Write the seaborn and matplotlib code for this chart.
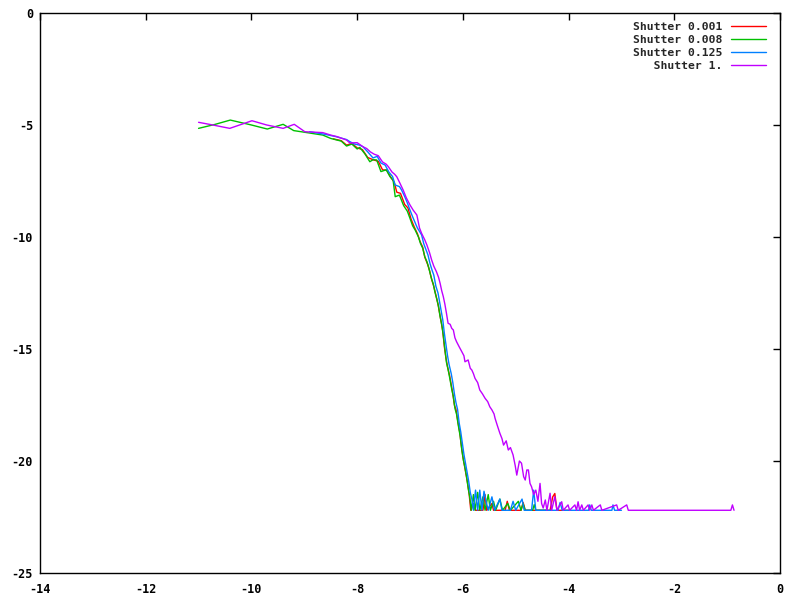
import matplotlib
matplotlib.use("Agg")
import matplotlib.pyplot as plt
import seaborn as sns
import pandas as pd

# ---- data ----
labels = ["Shutter 0.001", "Shutter 0.008", "Shutter 0.125", "Shutter 1."]
colors = ["#ff0000", "#00c000", "#0080ff", "#c000ff"]

red_x = [-8.45, -8.3, -8.2, -8.1, -8.0, -7.9, -7.8, -7.7, -7.6, -7.52, -7.44, -7.36, -7.3, -7.25,
         -7.18, -7.1, -7.04, -6.98, -6.92, -6.86, -6.81, -6.76, -6.72, -6.67, -6.63, -6.59, -6.55,
         -6.51, -6.47, -6.44, -6.41, -6.38, -6.35, -6.32, -6.29, -6.25, -6.22, -6.19, -6.16, -6.13,
         -6.09, -6.06, -6.03, -6.0, -5.97, -5.94, -5.91, -5.88, -5.85, -5.8, -5.76, -5.62, -5.58,
         -5.55, -5.45, -5.42, -5.2, -5.16, -5.12, -4.9, -4.86, -4.82, -4.35, -4.3, -4.26, -4.22, -4.0]
red_y = [-5.62, -5.7, -5.9, -5.82, -6.02, -6.1, -6.45, -6.55, -6.62, -7.0, -7.02, -7.35, -7.55, -8.0,
         -8.05, -8.55, -8.7, -9.2, -9.55, -9.85, -10.2, -10.45, -10.9, -11.2, -11.5, -11.9, -12.2,
         -12.6, -13.0, -13.4, -13.8, -14.2, -14.9, -15.4, -15.8, -16.2, -16.6, -17.0, -17.5, -17.7,
         -18.3, -18.7, -19.3, -19.8, -20.2, -20.6, -21.0, -21.5, -22.2, -21.9, -22.2, -22.2, -21.5,
         -22.2, -21.9, -22.2, -22.2, -21.8, -22.2, -22.2, -21.85, -22.2, -22.2, -21.6, -21.45, -22.2, -22.2]

green_x = [-11.0, -10.7, -10.4, -10.0, -9.7, -9.4, -9.2, -8.95, -8.65, -8.5, -8.3, -8.2, -8.1, -8.0,
           -7.95, -7.85, -7.76, -7.7, -7.63, -7.55, -7.45, -7.38, -7.32, -7.28, -7.2, -7.12, -7.05,
           -7.0, -6.95, -6.9, -6.84, -6.8, -6.76, -6.72, -6.68, -6.65, -6.6, -6.56, -6.53, -6.49,
           -6.46, -6.43, -6.4, -6.37, -6.34, -6.31, -6.28, -6.24, -6.21, -6.18, -6.15, -6.12, -6.08,
           -6.05, -6.02, -5.99, -5.96, -5.93, -5.9, -5.87, -5.84, -5.8, -5.77, -5.72, -5.68, -5.62,
           -5.58, -5.52, -5.48, -5.42, -5.38, -5.3, -5.25, -5.15, -5.1, -4.95, -4.9, -4.86, -4.82,
           -4.68, -4.65, -4.62, -4.4]
green_y = [-5.15, -4.98, -4.78, -5.0, -5.18, -4.97, -5.25, -5.34, -5.45, -5.6, -5.72, -5.94, -5.85, -6.07,
           -6.0, -6.3, -6.64, -6.55, -6.56, -7.08, -7.0, -7.3, -7.46, -8.2, -8.13, -8.6, -8.85,
           -9.17, -9.5, -9.7, -10.0, -10.3, -10.5, -10.88, -11.1, -11.33, -11.8, -12.1, -12.44, -12.8,
           -13.11, -13.56, -13.9, -14.4, -15.0, -15.6, -15.9, -16.4, -16.8, -17.13, -17.65, -17.9, -18.5,
           -18.9, -19.5, -19.96, -20.3, -20.7, -21.2, -21.6, -22.2, -21.5, -22.2, -21.4, -22.2, -21.6,
           -22.2, -21.5, -22.2, -21.8, -22.2, -21.7, -22.2, -21.9, -22.2, -21.8, -22.2, -21.9, -22.2,
           -22.2, -21.95, -22.2, -22.2]

blue_x = [-8.9, -8.6, -8.4, -8.2, -8.14, -8.05, -7.95, -7.89, -7.8, -7.7, -7.62, -7.55, -7.47, -7.4,
          -7.33, -7.28, -7.2, -7.16, -7.1, -7.06, -7.0, -6.95, -6.91, -6.86, -6.82, -6.78, -6.74,
          -6.7, -6.66, -6.62, -6.58, -6.55, -6.51, -6.47, -6.44, -6.41, -6.38, -6.35, -6.32, -6.29,
          -6.26, -6.22, -6.19, -6.16, -6.13, -6.1, -6.07, -6.04, -6.01, -5.98, -5.95, -5.92, -5.89,
          -5.86, -5.83, -5.8, -5.76, -5.72, -5.68, -5.64, -5.6, -5.56, -5.52, -5.45, -5.4, -5.3,
          -5.26, -5.1, -5.05, -5.0, -4.88, -4.84, -4.7, -4.66, -4.62, -4.2, -4.16, -4.12, -3.62,
          -3.6, -3.57, -3.18, -3.16, -3.13, -3.0]
blue_y = [-5.3, -5.42, -5.52, -5.65, -5.74, -5.85, -5.9, -5.97, -6.2, -6.47, -6.4, -6.7, -6.79, -7.1,
          -7.3, -7.68, -7.75, -7.9, -8.2, -8.42, -8.8, -9.1, -9.32, -9.6, -9.75, -9.91, -10.3,
          -10.55, -10.8, -11.2, -11.5, -11.7, -12.2, -12.5, -12.9, -13.3, -13.7, -14.3, -14.8, -15.3,
          -15.7, -16.1, -16.5, -17.0, -17.4, -17.7, -18.3, -18.7, -19.2, -19.7, -20.1, -20.5, -20.9,
          -21.4, -21.7, -22.2, -21.3, -22.2, -21.3, -22.2, -21.35, -21.8, -22.2, -21.6, -22.2, -21.7,
          -22.2, -22.2, -21.8, -22.2, -21.7, -22.2, -22.2, -21.3, -22.2, -22.2, -21.85, -22.2, -22.2,
          -21.96, -22.2, -22.2, -21.96, -22.2, -22.2]

magenta_x = [-11.0, -10.73, -10.41, -9.99, -9.71, -9.4, -9.19, -8.99, -8.65, -8.5, -8.38, -8.2, -8.14,
             -8.0, -7.89, -7.82, -7.75, -7.68, -7.6, -7.52, -7.45, -7.41, -7.34, -7.29, -7.25, -7.19,
             -7.13, -7.07, -7.0, -6.94, -6.87, -6.82, -6.78, -6.72, -6.68, -6.63, -6.59, -6.55, -6.5,
             -6.46, -6.43, -6.4, -6.37, -6.34, -6.31, -6.28, -6.24, -6.21, -6.18, -6.15, -6.12, -6.07,
             -6.02, -5.98, -5.96, -5.9, -5.86, -5.83, -5.8, -5.77, -5.72, -5.68, -5.63, -5.58, -5.53,
             -5.49, -5.45, -5.41, -5.39, -5.35, -5.3, -5.26, -5.23, -5.18, -5.14, -5.1, -5.05, -5.01,
             -4.98, -4.93, -4.89, -4.85, -4.82, -4.79, -4.76, -4.73, -4.7, -4.66, -4.62, -4.58, -4.54,
             -4.51, -4.48, -4.44, -4.41, -4.35, -4.32, -4.26, -4.22, -4.13, -4.1, -4.01, -3.98, -3.88,
             -3.85, -3.82, -3.79, -3.75, -3.72, -3.63, -3.6, -3.56, -3.53, -3.4, -3.37, -3.09, -3.06,
             -2.9, -2.87, -0.93, -0.9, -0.87]
magenta_y = [-4.88, -5.0, -5.15, -4.81, -5.0, -5.15, -4.97, -5.3, -5.34, -5.45, -5.52, -5.67, -5.8,
             -5.79, -5.97, -6.05, -6.2, -6.3, -6.37, -6.65, -6.75, -6.86, -7.1, -7.2, -7.31, -7.6,
             -7.9, -8.25, -8.57, -8.8, -9.02, -9.6, -9.84, -10.13, -10.36, -10.7, -11.03, -11.3, -11.55,
             -11.8, -12.07, -12.4, -12.66, -13.0, -13.41, -13.85, -13.9, -14.08, -14.15, -14.5, -14.67, -14.9,
             -15.12, -15.3, -15.57, -15.49, -15.86, -15.94, -16.1, -16.31, -16.5, -16.83, -17.0, -17.2, -17.35,
             -17.58, -17.72, -17.9, -18.1, -18.4, -18.76, -19.0, -19.29, -19.1, -19.51, -19.4, -19.73, -20.2,
             -20.63, -20.0, -20.1, -20.7, -20.85, -20.4, -20.4, -21.0, -21.15, -21.5, -21.3, -21.8, -21.0,
             -21.9, -22.1, -21.74, -22.2, -21.44, -22.2, -21.59, -22.2, -21.82, -22.2, -21.96, -22.2, -21.96,
             -22.2, -21.82, -22.2, -21.96, -22.2, -21.96, -22.2, -21.96, -22.2, -21.96, -22.2, -21.96, -22.2,
             -21.96, -22.2, -22.2, -21.96, -22.2]

x_ticks = [-14, -12, -10, -8, -6, -4, -2, 0]
y_ticks = [0, -5, -10, -15, -20, -25]

# ---- build long-form table ----
frames = []
for lab, xs, ys in zip(labels,
                       [red_x, green_x, blue_x, magenta_x],
                       [red_y, green_y, blue_y, magenta_y]):
    frames.append(pd.DataFrame({"x": xs, "y": ys, "series": lab}))
df = pd.concat(frames, ignore_index=True)

sns.set_style("white")
plt.rcParams["font.family"] = ["DejaVu Sans Mono"]
plt.rcParams["font.weight"] = "bold"

fig = plt.figure(figsize=(8, 6), dpi=100)
ax = fig.add_axes([40 / 800, 1 - 573 / 600, 740 / 800, 560 / 600])

sns.lineplot(data=df, x="x", y="y", hue="series", hue_order=labels,
             palette=dict(zip(labels, colors)), estimator=None, sort=False,
             units="series", linewidth=1.0, ax=ax, legend=True)

ax.set_xlim(-14, 0)
ax.set_ylim(-25, 0)
ax.set_xticks(x_ticks)
ax.set_yticks(y_ticks)
ax.set_xticklabels([str(t) for t in x_ticks])
ax.set_yticklabels([str(t) for t in y_ticks])
ax.set_xlabel("")
ax.set_ylabel("")
ax.tick_params(direction="in", length=5, width=1, top=True, right=True,
               labelsize=8.5, colors="black")
ax.tick_params(axis="x", pad=7)
ax.tick_params(axis="y", pad=5)
for lbl in ax.get_xticklabels() + ax.get_yticklabels():
    lbl.set_fontweight("bold")
for s in ax.spines.values():
    s.set_visible(True)
    s.set_color("black")
    s.set_linewidth(1)

handles, _ = ax.get_legend_handles_labels()
maxlen = max(len(l) for l in labels)
padded = [" " * (maxlen - len(l)) + l for l in labels]
leg = ax.legend(handles[:4], padded, loc="upper right", frameon=False,
                bbox_to_anchor=(0.981, 0.984), borderaxespad=0, borderpad=0,
                markerfirst=False, handlelength=3.1, handletextpad=0.75,
                labelspacing=0.25,
                prop={"family": "DejaVu Sans Mono", "weight": "bold", "size": 8.2})

fig.savefig("out.png", dpi=100)
